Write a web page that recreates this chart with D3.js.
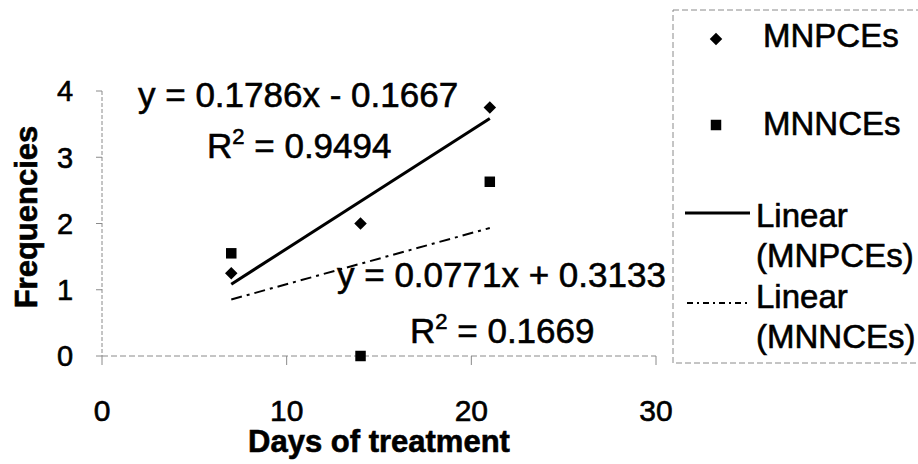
<!DOCTYPE html>
<html>
<head>
<meta charset="utf-8">
<script src="https://cdn.jsdelivr.net/npm/d3@7"></script>
<style>
  body { margin: 0; background: #fff; }
  svg { display: block; font-family: "Liberation Sans", Arial, sans-serif; }
  text { fill: #000; stroke: #000; stroke-width: 0.6px; }
</style>
</head>
<body>
<div id="chart"></div>
<script>
const width = 918;
const height = 464;

// data
const days = [7, 14, 21];
const mnpces = [1.25, 2.0, 3.75];
const mnnces = [1.55, 0, 2.63];
const seriesNames = ["MNPCEs", "MNNCEs"];
const slopes = [0.1786, 0.0771];
const intercepts = [-0.1667, 0.3133];
const rSquared = [0.9494, 0.1669];
const xTicks = [0, 10, 20, 30];
const yTicks = [0, 1, 2, 3, 4];

const x = d3.scaleLinear().domain([0, 30]).range([102, 656]);
const y = d3.scaleLinear().domain([0, 4]).range([356, 91]);

const svg = d3.select("#chart").append("svg")
  .attr("width", width)
  .attr("height", height);

// axes, faint and broken like the scan
const axisCol = "#8a8a8a";
svg.append("line")
  .attr("x1", x(0)).attr("x2", x(0)).attr("y1", y(4)).attr("y2", y(0))
  .attr("stroke", axisCol).attr("stroke-dasharray", "4,2");
svg.append("line")
  .attr("x1", x(0)).attr("x2", x(30)).attr("y1", y(0)).attr("y2", y(0))
  .attr("stroke", axisCol).attr("stroke-dasharray", "6,3");

svg.selectAll(".ytick").data(yTicks).join("line")
  .attr("x1", x(0) - 6).attr("x2", x(0))
  .attr("y1", d => y(d)).attr("y2", d => y(d))
  .attr("stroke", axisCol);
svg.selectAll(".xtick").data(xTicks).join("line")
  .attr("x1", d => x(d)).attr("x2", d => x(d))
  .attr("y1", y(0)).attr("y2", y(0) + 9)
  .attr("stroke", axisCol);

svg.selectAll(".ylab").data(yTicks).join("text")
  .attr("x", 65).attr("y", d => y(d))
  .attr("dy", "0.36em")
  .attr("text-anchor", "middle")
  .style("font-size", "29px")
  .text(d => d);
svg.selectAll(".xlab").data(xTicks).join("text")
  .attr("x", d => x(d)).attr("y", 421)
  .attr("text-anchor", "middle")
  .style("font-size", "30px")
  .text(d => d);

svg.append("text")
  .attr("x", x(15)).attr("y", 452)
  .attr("text-anchor", "middle")
  .style("font-size", "31px").style("font-weight", "bold")
  .text("Days of treatment");
svg.append("text")
  .attr("transform", "translate(37,217) rotate(-90)")
  .attr("text-anchor", "middle")
  .style("font-size", "31px").style("font-weight", "bold")
  .text("Frequencies");

// trend lines over the measured range
const dashes = [null, "11,5,3,5"];
slopes.forEach((m, i) => {
  const x0 = d3.min(days), x1 = d3.max(days);
  svg.append("line")
    .attr("x1", x(x0)).attr("y1", y(m * x0 + intercepts[i]))
    .attr("x2", x(x1)).attr("y2", y(m * x1 + intercepts[i]))
    .attr("stroke", "#000")
    .attr("stroke-width", i === 0 ? 3 : 2)
    .attr("stroke-dasharray", dashes[i]);
});

// markers
const diamond = d3.symbol().type(d3.symbolDiamond2).size(100);
const square = d3.symbol().type(d3.symbolSquare).size(110);
svg.selectAll(".pce").data(days).join("path")
  .attr("d", diamond)
  .attr("transform", (d, i) => `translate(${x(d)},${y(mnpces[i])})`)
  .attr("fill", "#000");
svg.selectAll(".nce").data(days).join("path")
  .attr("d", square)
  .attr("transform", (d, i) => `translate(${x(d)},${y(mnnces[i])})`)
  .attr("fill", "#000");

// regression labels
const fmt = d3.format(".4f");
const eqPos = [[138, 107, 207, 158], [337, 287, 410, 343]];
slopes.forEach((m, i) => {
  const b = intercepts[i];
  const [ex, ey, rx, ry] = eqPos[i];
  svg.append("text")
    .attr("x", ex).attr("y", ey)
    .style("font-size", "35px")
    .text(`y = ${fmt(m)}x ${b < 0 ? "-" : "+"} ${fmt(Math.abs(b))}`);
  const r = svg.append("text")
    .attr("x", rx).attr("y", ry)
    .style("font-size", "35px");
  r.append("tspan").text("R");
  r.append("tspan").attr("dy", -14).style("font-size", "22px").text("2");
  r.append("tspan").attr("dy", 14).text(` = ${fmt(rSquared[i])}`);
});

// legend
const lg = svg.append("g");
lg.append("rect")
  .attr("x", 673).attr("y", 10).attr("width", 260).attr("height", 353)
  .attr("fill", "none").attr("stroke", axisCol).attr("stroke-dasharray", "6,3");

const legendFont = "33px";
lg.append("path").attr("d", diamond).attr("transform", "translate(716,39)");
lg.append("text").attr("x", 763).attr("y", 47).style("font-size", legendFont).text(seriesNames[0]);
lg.append("path").attr("d", square).attr("transform", "translate(716,125)");
lg.append("text").attr("x", 763).attr("y", 135).style("font-size", legendFont).text(seriesNames[1]);

lg.append("line").attr("x1", 685).attr("x2", 750).attr("y1", 213).attr("y2", 213)
  .attr("stroke", "#000").attr("stroke-width", 3);
lg.append("text").attr("x", 756).attr("y", 227).style("font-size", legendFont).text("Linear");
lg.append("text").attr("x", 756).attr("y", 267).style("font-size", legendFont).text(`(${seriesNames[0]})`);
lg.append("line").attr("x1", 687).attr("x2", 750).attr("y1", 303).attr("y2", 303)
  .attr("stroke", "#000").attr("stroke-width", 2).attr("stroke-dasharray", "6,4,2,4");
lg.append("text").attr("x", 756).attr("y", 308).style("font-size", legendFont).text("Linear");
lg.append("text").attr("x", 756).attr("y", 348).style("font-size", legendFont).text(`(${seriesNames[1]})`);
</script>
</body>
</html>
